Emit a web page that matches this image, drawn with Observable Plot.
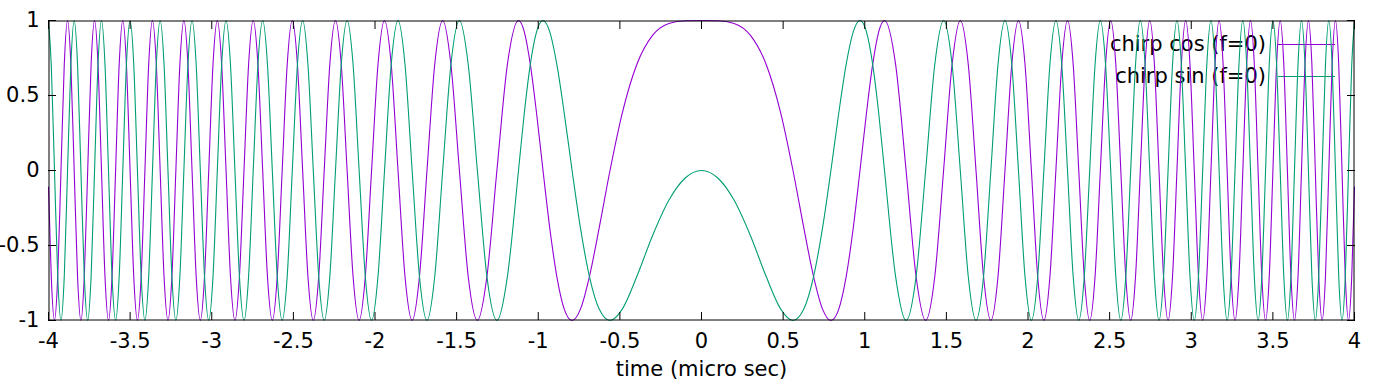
<!DOCTYPE html>
<html>
<head>
<meta charset="utf-8">
<script src="https://cdn.jsdelivr.net/npm/d3@7"></script>
<script src="https://cdn.jsdelivr.net/npm/@observablehq/plot@0.6"></script>
<style>
  html, body { margin: 0; padding: 0; background: #fff; }
  #wrap { position: relative; width: 1376px; height: 384px; font-family: "DejaVu Sans", sans-serif; }
  #legend { position: absolute; right: 41px; top: 28px; z-index: 0; font-size: 21px; color: #000; }
  #legend .row { display: flex; align-items: center; justify-content: flex-end; height: 32px; }
  #legend .sw { width: 57px; height: 1px; margin-left: 12px; }
  #chart { position: relative; z-index: 1; }
</style>
</head>
<body>
<div id="wrap"><div id="legend"></div><div id="chart"></div></div>
<script>
const seriesNames = ["chirp cos (f=0)", "chirp sin (f=0)"];
const seriesColors = ["#9400d3", "#009e73"];
const xTicks = [-4, -3.5, -3, -2.5, -2, -1.5, -1, -0.5, 0, 0.5, 1, 1.5, 2, 2.5, 3, 3.5, 4];
const yTicks = [-1, -0.5, 0, 0.5, 1];
const xLabel = "time (micro sec)";

// Positive half of the time axis (both curves are symmetric about t = 0),
// sampled at the peaks, troughs, zero crossings and half-way points read from the picture.
const timePos = [0, 0.1, 0.2, 0.3, 0.3963, 0.4854, 0.5605, 0.6267, 0.6865, 0.7415, 0.7927, 0.8408, 0.8862, 0.9295, 0.9708, 1.0105, 1.0486, 1.0854, 1.1210,
  1.1890, 1.2533, 1.3145, 1.3729, 1.4290, 1.4829, 1.5350, 1.5853,
  1.6341, 1.6815, 1.7276, 1.7725, 1.8162, 1.8590, 1.9007, 1.9416,
  1.9817, 2.0209, 2.0594, 2.0972, 2.1343, 2.1708, 2.2067, 2.2420,
  2.2768, 2.3110, 2.3447, 2.3780, 2.4108, 2.4432, 2.4751, 2.5066,
  2.5378, 2.5685, 2.5989, 2.6290, 2.6587, 2.6880, 2.7171, 2.7459,
  2.7743, 2.8025, 2.8304, 2.8580, 2.8853, 2.9124, 2.9393, 2.9659,
  2.9923, 3.0184, 3.0443, 3.0700, 3.0954, 3.1207, 3.1458, 3.1707,
  3.1953, 3.2198, 3.2441, 3.2682, 3.2922, 3.3160, 3.3396, 3.3630,
  3.3863, 3.4094, 3.4323, 3.4552, 3.4778, 3.5003, 3.5227, 3.5449,
  3.5670, 3.5890, 3.6108, 3.6324, 3.6540, 3.6754, 3.6967, 3.7179,
  3.7390, 3.7599, 3.7808, 3.8015, 3.8221, 3.8426, 3.8630, 3.8833,
  3.9034, 3.9235, 3.9435, 3.9633, 3.9831, 4.0];

const cosPos = [1, 0.9988, 0.9801, 0.9004, 0.707, 0.383, 0, -0.383, -0.707, -0.924, -1, -0.924, -0.707, -0.383, 0, 0.383, 0.707, 0.924, 1,
  0.707, 0, -0.707, -1, -0.707, 0, 0.707, 1,
  0.707, 0, -0.707, -1, -0.707, 0, 0.707, 1,
  0.707, 0, -0.707, -1, -0.707, 0, 0.707, 1,
  0.707, 0, -0.707, -1, -0.707, 0, 0.707, 1,
  0.707, 0, -0.707, -1, -0.707, 0, 0.707, 1,
  0.707, 0, -0.707, -1, -0.707, 0, 0.707, 1,
  0.707, 0, -0.707, -1, -0.707, 0, 0.707, 1,
  0.707, 0, -0.707, -1, -0.707, 0, 0.707, 1,
  0.707, 0, -0.707, -1, -0.707, 0, 0.707, 1,
  0.707, 0, -0.707, -1, -0.707, 0, 0.707, 1,
  0.707, 0, -0.707, -1, -0.707, 0, 0.707, 1,
  0.707, 0, -0.707, -1, -0.707, -0.110];

const sinPos = [0, -0.050, -0.199, -0.435, -0.707, -0.924, -1, -0.924, -0.707, -0.383, 0, 0.383, 0.707, 0.924, 1, 0.924, 0.707, 0.383, 0,
  -0.707, -1, -0.707, 0, 0.707, 1, 0.707, 0,
  -0.707, -1, -0.707, 0, 0.707, 1, 0.707, 0,
  -0.707, -1, -0.707, 0, 0.707, 1, 0.707, 0,
  -0.707, -1, -0.707, 0, 0.707, 1, 0.707, 0,
  -0.707, -1, -0.707, 0, 0.707, 1, 0.707, 0,
  -0.707, -1, -0.707, 0, 0.707, 1, 0.707, 0,
  -0.707, -1, -0.707, 0, 0.707, 1, 0.707, 0,
  -0.707, -1, -0.707, 0, 0.707, 1, 0.707, 0,
  -0.707, -1, -0.707, 0, 0.707, 1, 0.707, 0,
  -0.707, -1, -0.707, 0, 0.707, 1, 0.707, 0,
  -0.707, -1, -0.707, 0, 0.707, 1, 0.707, 0,
  -0.707, -1, -0.707, 0, 0.707, 0.994];

// Build the table (mirror the symmetric half onto negative times)
function buildSeries(name, vals) {
  const rows = [];
  for (let i = timePos.length - 1; i > 0; i--) rows.push({t: -timePos[i], v: vals[i], series: name});
  for (let i = 0; i < timePos.length; i++) rows.push({t: timePos[i], v: vals[i], series: name});
  return rows;
}
const rows = [...buildSeries(seriesNames[0], cosPos), ...buildSeries(seriesNames[1], sinPos)];

const fmt = d => String(d);
const blank = () => "";

const chart = Plot.plot({
  width: 1376,
  height: 384,
  marginLeft: 48,
  marginRight: 22,
  marginTop: 20,
  marginBottom: 64,
  style: {fontFamily: "DejaVu Sans", fontSize: "21px", color: "#000", background: "transparent", overflow: "visible"},
  x: {domain: [-4, 4]},
  y: {domain: [-1, 1]},
  color: {domain: seriesNames, range: seriesColors},
  marks: [
    Plot.line(rows, {x: "t", y: "v", z: "series", stroke: "series", curve: "monotone-x", strokeWidth: 1.1}),
    Plot.frame({stroke: "#000", strokeWidth: 1, insetLeft: 0.5, insetTop: 0.5, insetRight: 0.5, insetBottom: 0.5}),
    Plot.axisX(xTicks, {anchor: "bottom", tickSize: 0, tickPadding: 13, tickFormat: fmt, label: null, fill: "#000"}),
    Plot.axisX(xTicks, {anchor: "bottom", tickSize: -8, tickFormat: blank, label: null, stroke: "#000"}),
    Plot.axisX(xTicks, {anchor: "top", tickSize: -8, tickFormat: blank, label: null, stroke: "#000"}),
    Plot.axisY(yTicks, {anchor: "left", tickSize: 0, tickPadding: 9, tickFormat: fmt, label: null, fill: "#000"}),
    Plot.axisY(yTicks, {anchor: "left", tickSize: -8, tickFormat: blank, label: null, stroke: "#000"}),
    Plot.axisY(yTicks, {anchor: "right", tickSize: -8, tickFormat: blank, label: null, stroke: "#000"}),
    Plot.text([xLabel], {frameAnchor: "bottom", dy: 55, fill: "#000", fontSize: 21})
  ]
});
document.getElementById("chart").appendChild(chart);

const legend = document.getElementById("legend");
seriesNames.forEach((name, i) => {
  const row = document.createElement("div");
  row.className = "row";
  const label = document.createElement("span");
  label.textContent = name;
  const sw = document.createElement("div");
  sw.className = "sw";
  sw.style.background = seriesColors[i];
  row.appendChild(label);
  row.appendChild(sw);
  legend.appendChild(row);
});
</script>
</body>
</html>
